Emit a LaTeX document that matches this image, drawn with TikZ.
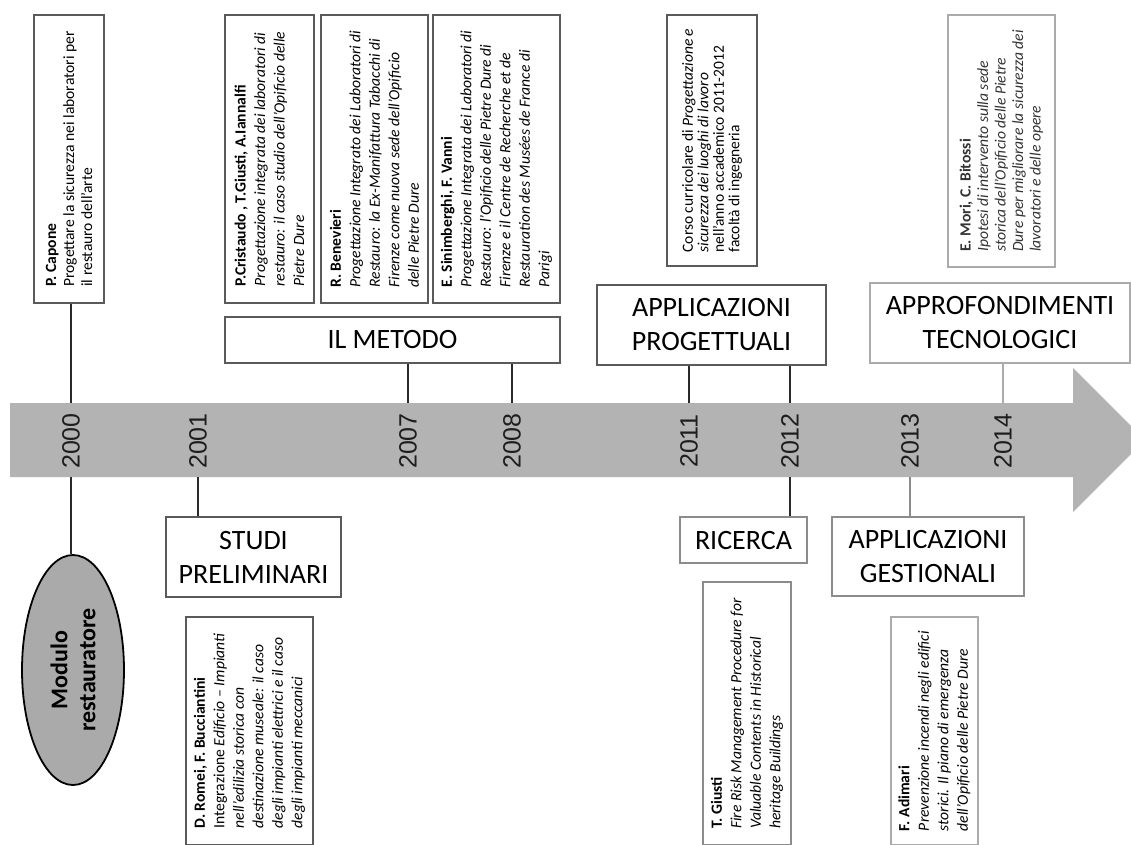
\documentclass[tikz,border=0pt]{standalone}
\usepackage{fontspec}
\setmainfont{Carlito}
\newfontfamily\yearfont{Liberation Sans}
\usetikzlibrary{positioning,shapes.geometric}

\definecolor{bandgray}{HTML}{B3B3B3}
\definecolor{ellfill}{HTML}{AAAAAA}
\definecolor{boxdark}{HTML}{5A5A5A}
\definecolor{boxmid}{HTML}{8C8C8C}
\definecolor{boxlight}{HTML}{ABABAB}
\definecolor{stemcol}{HTML}{2A2A2A}
\definecolor{yeartext}{HTML}{1E1E1E}

\begin{document}
\begin{tikzpicture}[x=1pt,y=-1pt,
  bigbox/.style={draw=boxdark,line width=1.2pt,fill=white,align=center,inner sep=0pt,
    font=\fontsize{28}{34}\selectfont},
  notebox/.style={draw=boxdark,line width=1.2pt,fill=white,rotate=90,align=left,inner sep=0pt,
    font=\fontsize{15.6}{19.5}\selectfont},
  yearlabel/.style={rotate=90,inner sep=0pt,font=\yearfont\fontsize{25}{25}\selectfont,text=yeartext},
  stem/.style={draw=stemcol,line width=2pt}
]
\clip (0,0) rectangle (1131,844);
\fill[white] (0,0) rectangle (1131,844);

% timeline band
\fill[bandgray] (10,403) -- (1073,403) -- (1073,368) -- (1145,440) -- (1073,512)
  -- (1073,477) -- (10,477) -- cycle;
\coordinate (bandtop) at (0,403);
\coordinate (bandbot) at (0,477);

\foreach \yr/\xx in {2000/71,2001/198,2007/408,2008/512,2011/689,2012/790,2013/910,2014/1003}
  \node[yearlabel] (y\yr) at (\xx,441) {\yr};

% phases
\node[bigbox,minimum width=335pt,minimum height=46pt] (metodo) at (392.5,340) {IL METODO};
\node[bigbox,minimum width=229pt,minimum height=80pt] (progett) at (711.5,325) {APPLICAZIONI\\PROGETTUALI};
\node[bigbox,draw=boxlight,minimum width=260pt,minimum height=80pt] (tecno) at (1000,323) {APPROFONDIMENTI\\TECNOLOGICI};
\node[bigbox,minimum width=175pt,minimum height=80pt] (studi) at (253.5,557) {STUDI\\PRELIMINARI};
\node[bigbox,draw=boxmid,minimum width=127pt,minimum height=46pt] (ricerca) at (743.5,540) {RICERCA};
\node[bigbox,draw=boxmid,minimum width=192pt,minimum height=79pt] (gestion) at (928,556.5) {APPLICAZIONI\\GESTIONALI};

\node[ellipse,draw=black,line width=1.8pt,fill=ellfill,rotate=90,minimum width=230pt,
  minimum height=102pt,inner sep=0pt,align=center,font=\bfseries\fontsize{24}{28}\selectfont]
  (modulo) at (73,670) {Modulo\\restauratore};

% works above the line
\node[notebox,minimum width=288pt,minimum height=70pt,font=\fontsize{15.6}{18}\selectfont]
  (capone) at (69,159) {\textbf{P. Capone}\\Progettare la sicurezza nei laboratori per\\il restauro dell'arte};
\node[notebox,minimum width=288pt,minimum height=89pt] (cristaudo) at (269.5,159)
  {\textbf{P.Cristaudo , T.Giusti, A.Iannalfi}\\\itshape Progettazione integrata dei laboratori di\\\itshape restauro: il caso studio dell'Opificio delle\\\itshape Pietre Dure};
\node[notebox,minimum width=288pt,minimum height=107pt] (benevieri) at (374.5,159)
  {\textbf{R. Benevieri}\\\itshape Progettazione Integrato dei Laboratori di\\\itshape Restauro: la Ex-Manifattura Tabacchi di\\\itshape Firenze come nuova sede dell'Opificio\\\itshape delle Pietre Dure};
\node[notebox,minimum width=288pt,minimum height=127pt] (sinimberghi) at (496.5,159)
  {\textbf{E. Sinimberghi, F. Vanni}\\\itshape Progettazione Integrata dei Laboratori di\\\itshape Restauro: l'Opificio delle Pietre Dure di\\\itshape Firenze e il Centre de Recherche et de\\\itshape Restauration des Musées de France di\\\itshape Parigi};
\node[notebox,minimum width=251pt,minimum height=90pt,font=\fontsize{15.5}{15.5}\selectfont] (corso) at (712,140.5)
  {Corso curricolare di \textit{Progettazione e}\\\textit{sicurezza dei luoghi di lavoro}\\nell'anno accademico 2011-2012\\facoltà di ingegneria};
\node[notebox,draw=boxlight,minimum width=252pt,minimum height=107pt,font=\fontsize{15.6}{17.5}\selectfont,text=black!80]
  (mori) at (1001.5,141)
  {\textbf{E. Mori, C. Bitossi}\\\itshape Ipotesi di intervento sulla sede\\\itshape storica dell'Opificio delle Pietre\\\itshape Dure per migliorare la sicurezza dei\\\itshape lavoratori e delle opere};

% works below the line
\node[notebox,minimum width=228pt,minimum height=127pt] (romei) at (249.5,731)
  {\textbf{D. Romei, F. Bucciantini}\\Integrazione \textit{Edificio – Impianti}\\\itshape nell'edilizia storica con\\\itshape destinazione museale: il caso\\\itshape degli impianti elettrici e il caso\\\itshape degli impianti meccanici};
\node[notebox,draw=boxmid,minimum width=263pt,minimum height=88pt] (giusti) at (747,713.5)
  {\textbf{T. Giusti}\\\itshape Fire Risk Management Procedure for\\\itshape Valuable Contents in Historical\\\itshape heritage Buildings};
\node[notebox,draw=boxlight,minimum width=228pt,minimum height=87pt] (adimari) at (934.5,731)
  {\textbf{F. Adimari}\\\itshape Prevenzione incendi negli edifici\\\itshape storici. Il piano di emergenza\\\itshape dell'Opificio delle Pietre Dure};

% stems
\draw[stem] (y2000 |- capone.west) -- (y2000 |- bandtop);
\draw[stem] (y2000 |- bandbot) -- (y2000 |- modulo.east);
\draw[stem] (y2001 |- bandbot) -- (y2001 |- studi.north);
\draw[stem] (y2007 |- metodo.south) -- (y2007 |- bandtop);
\draw[stem] (y2008 |- metodo.south) -- (y2008 |- bandtop);
\draw[stem] (y2011 |- progett.south) -- (y2011 |- bandtop);
\draw[stem] (y2012 |- progett.south) -- (y2012 |- bandtop);
\draw[stem] (y2012 |- bandbot) -- (y2012 |- ricerca.north);
\draw[stem,draw=boxmid] (y2013 |- bandbot) -- (y2013 |- gestion.north);
\draw[stem,draw=boxlight] (y2014 |- tecno.south) -- (y2014 |- bandtop);
\end{tikzpicture}
\end{document}
